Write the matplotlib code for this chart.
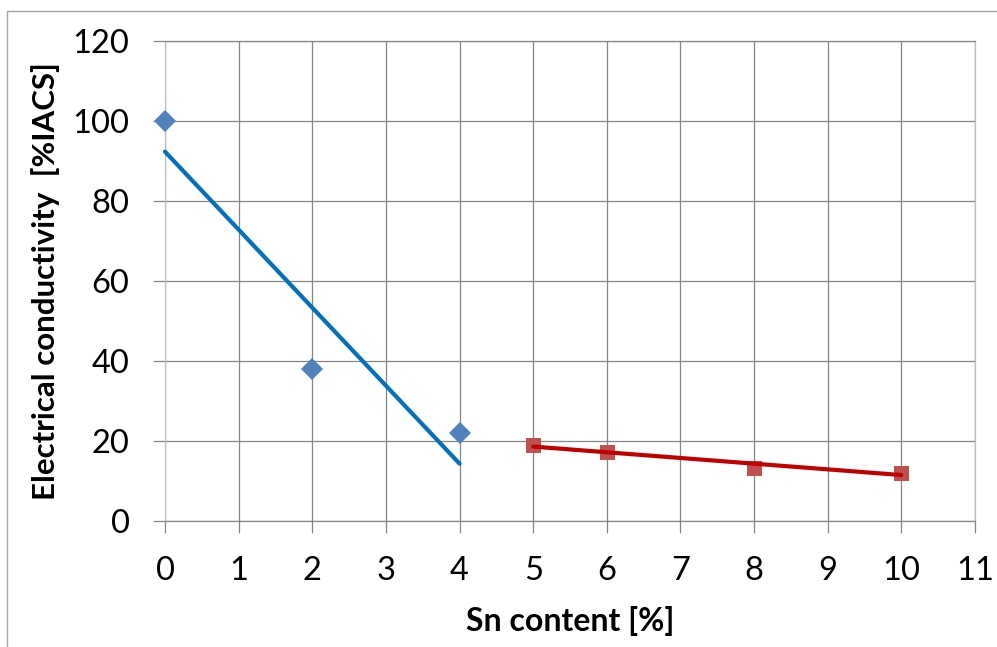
import numpy as np
import matplotlib
matplotlib.use("Agg")
import matplotlib.pyplot as plt
from matplotlib.patches import Rectangle

# Measured conductivity vs. tin content
sn_low = [0, 2, 4]
cond_low = [100, 38, 22]
sn_high = [5, 6, 8, 10]
cond_high = [19, 17.2, 13.3, 12.1]

x_ticks = list(range(0, 12))
y_ticks = list(range(0, 121, 20))

plt.rcParams['font.family'] = ['Lato', 'DejaVu Sans']

W, H = 997, 647
fig = plt.figure(figsize=(W / 100, H / 100), dpi=100)
ax = fig.add_axes([165 / W, 1 - 521 / H, 810 / W, 480 / H])

grid_c = '#868686'
light_c = '#BFBFBF'

ax.set_xlim(0, 11)
ax.set_ylim(0, 120)
ax.set_xticks(x_ticks)
ax.set_yticks(y_ticks)
ax.grid(True, color=grid_c, linewidth=0.9)
ax.set_axisbelow(True)

for side in ('left', 'right'):
    ax.spines[side].set_color(light_c)
    ax.spines[side].set_linewidth(0.9)
for side in ('top', 'bottom'):
    ax.spines[side].set_color(grid_c)
    ax.spines[side].set_linewidth(0.9)

ax.tick_params(axis='both', direction='out', length=8.5, width=0.9,
               color=grid_c, labelsize=23.5, labelcolor='black')
ax.tick_params(axis='y', pad=17)
ax.tick_params(axis='x', pad=17)

# Data points
ax.plot(sn_low, cond_low, linestyle='none', marker='D', markersize=10.8,
        color='#4F81BD', markeredgewidth=0, zorder=3, clip_on=False)
ax.plot(sn_high, cond_high, linestyle='none', marker='s', markersize=10.8,
        color='#C0504D', markeredgewidth=0, zorder=3, clip_on=False)

# Linear trendlines over each composition range
for xs, ys, c in ((sn_low, cond_low, '#0070C0'), (sn_high, cond_high, '#C00000')):
    k, b = np.polyfit(xs, ys, 1)
    xf = np.array([min(xs), max(xs)])
    ax.plot(xf, k * xf + b, color=c, linewidth=3, solid_capstyle='round',
            zorder=4, clip_on=False)

ax.set_xlabel('Sn content [%]', fontsize=23, fontweight='bold', labelpad=14)
ax.set_ylabel('Electrical conductivity  [%IACS]', fontsize=22.5, fontweight='bold',
              labelpad=9)

# Chart frame
fig.patches.append(Rectangle((7 / W, -0.2), 1.2, 1.2 - 11 / H,
                             transform=fig.transFigure, fill=False,
                             edgecolor='#A6A6A6', linewidth=1))

fig.savefig('out.png', dpi=100)
